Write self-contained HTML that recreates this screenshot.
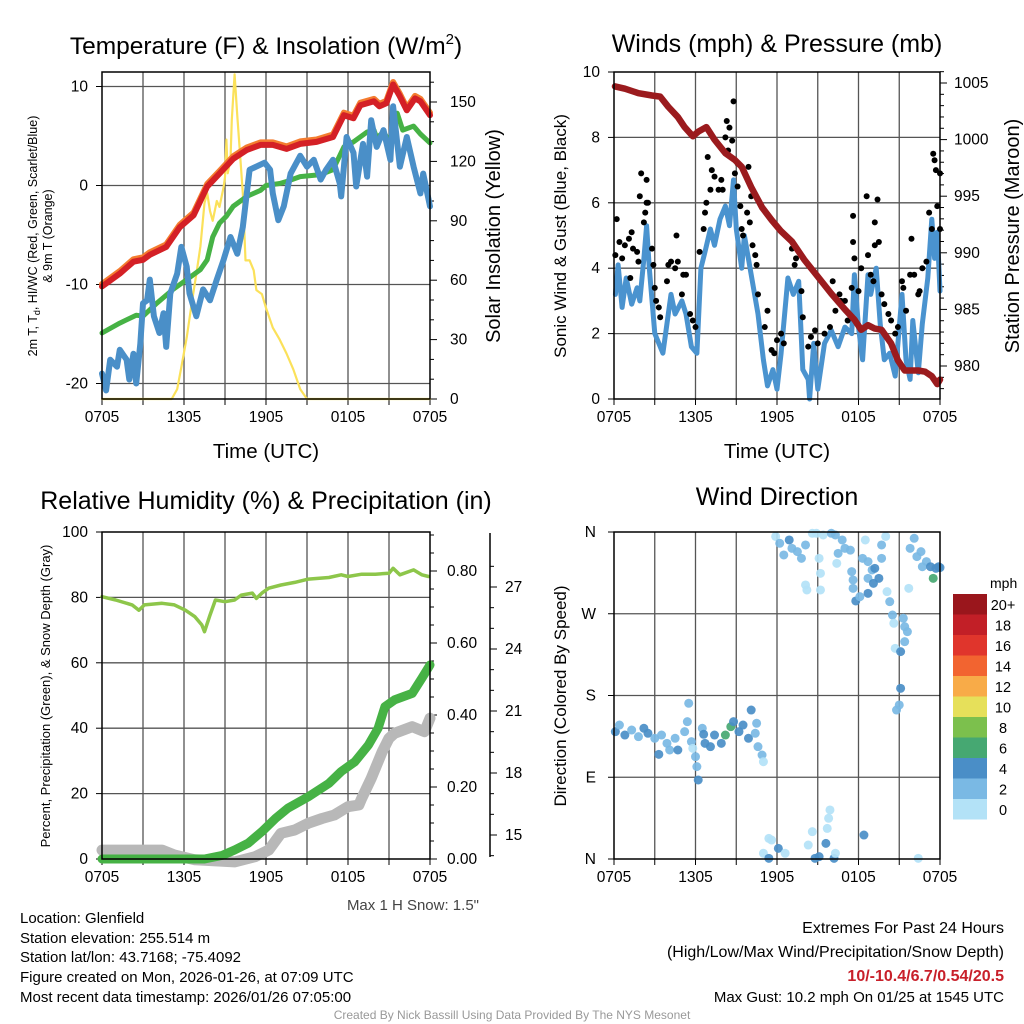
<!DOCTYPE html>
<html><head><meta charset="utf-8"><style>
html,body{margin:0;padding:0;background:#fff;}
svg{display:block;font-family:"Liberation Sans",Arial,sans-serif;}
</style></head><body>
<svg id="fig" width="1024" height="1024" viewBox="0 0 1024 1024" xmlns="http://www.w3.org/2000/svg">
<g id="p1"></g>
<g id="p2"></g>
<g id="p3"></g>
<g id="p4"></g>
<g id="txt">
<text x="266" y="54" font-size="24.5" text-anchor="middle">Temperature (F) &amp; Insolation (W/m<tspan font-size="15" dy="-10">2</tspan><tspan dy="10">)</tspan></text>
<text x="777" y="52" font-size="25" text-anchor="middle">Winds (mph) &amp; Pressure (mb)</text>
<text x="266" y="509" font-size="25" text-anchor="middle">Relative Humidity (%) &amp; Precipitation (in)</text>
<text x="777" y="505" font-size="25" text-anchor="middle">Wind Direction</text>
<text x="266" y="458" font-size="20.5" text-anchor="middle">Time (UTC)</text>
<text x="777" y="458" font-size="20.5" text-anchor="middle">Time (UTC)</text>
<text transform="translate(37,236) rotate(-90)" font-size="12.5" text-anchor="middle">2m T, T<tspan font-size="9" dy="3">d</tspan><tspan dy="-3">, HI/WC (Red, Green, Scarlet/Blue)</tspan></text>
<text transform="translate(52,236) rotate(-90)" font-size="12.5" text-anchor="middle">&amp; 9m T (Orange)</text>
<text transform="translate(500,236) rotate(-90)" font-size="20" text-anchor="middle">Solar Insolation (Yellow)</text>
<text transform="translate(566,236) rotate(-90)" font-size="17" text-anchor="middle">Sonic Wind &amp; Gust (Blue, Black)</text>
<text transform="translate(1019,236) rotate(-90)" font-size="20" text-anchor="middle">Station Pressure (Maroon)</text>
<text transform="translate(50,696) rotate(-90)" font-size="13" text-anchor="middle">Percent, Precipitation (Green), &amp; Snow Depth (Gray)</text>
<text transform="translate(566,696) rotate(-90)" font-size="17" text-anchor="middle">Direction (Colored By Speed)</text>
<text x="479" y="910" font-size="15" fill="#444" text-anchor="end">Max 1 H Snow: 1.5"</text>
<g font-size="15">
<text x="20" y="923">Location: Glenfield</text>
<text x="20" y="943">Station elevation: 255.514 m</text>
<text x="20" y="962">Station lat/lon: 43.7168; -75.4092</text>
<text x="20" y="982">Figure created on Mon, 2026-01-26, at 07:09 UTC</text>
<text x="20" y="1002">Most recent data timestamp: 2026/01/26 07:05:00</text>
</g>
<g text-anchor="end">
<text x="1004" y="933" font-size="16">Extremes For Past 24 Hours</text>
<text x="1004" y="957" font-size="16">(High/Low/Max Wind/Precipitation/Snow Depth)</text>
<text x="1004" y="981" font-size="16" font-weight="bold" fill="#c8202a">10/-10.4/6.7/0.54/20.5</text>
<text x="1004" y="1002" font-size="15">Max Gust: 10.2 mph On 01/25 at 1545 UTC</text>
</g>
<text x="512" y="1019" font-size="12" fill="#999" text-anchor="middle">Created By Nick Bassill Using Data Provided By The NYS Mesonet</text>
</g>
</svg>
<script>
// ---- data: [hour since 0705 UTC, value] ----
const xTickLabels = ["0705","1305","1905","0105","0705"];
const temp2m = [[0,-10.2],[1.3,-8.9],[2.3,-7.7],[3,-7.5],[3.5,-7.0],[4.7,-6.2],[5.7,-4.2],[6.7,-3.0],[7.7,-0.1],[8.6,1.2],[9.6,2.7],[10.6,3.6],[11.6,4.1],[12.5,4.1],[13.5,3.7],[14.5,4.2],[15.7,4.4],[16.9,4.9],[17.7,7.1],[18.4,6.8],[18.9,8.1],[19.9,8.5],[20.3,8.0],[20.8,8.3],[21.3,10.2],[21.8,9.0],[22.3,7.6],[22.9,8.8],[23.3,8.5],[24,7.1]];
const dewpoint = [[0,-14.9],[1.3,-13.9],[2.5,-13.1],[3,-13.2],[4,-11.9],[5.2,-10.5],[6.2,-9.5],[7.2,-8.5],[7.7,-7.5],[8.1,-5.2],[8.6,-3.8],[9.1,-3.1],[9.6,-2.1],[10.6,-1.1],[11.1,-0.8],[11.6,-0.5],[12,0.0],[13,0.2],[13.5,0.4],[14.5,0.9],[16,1.1],[16.9,1.6],[17.7,3.9],[18.4,4.4],[19.4,5.4],[19.9,5.6],[20.1,4.8],[20.6,5.4],[21.1,4.3],[21.6,7.3],[22,5.6],[22.8,6.0],[23.3,5.2],[24,4.3]];
const windChill = [[0,-19.0],[0.3,-20.7],[0.6,-17.6],[1.1,-18.3],[1.3,-16.6],[1.8,-17.6],[2.0,-19.6],[2.3,-17.0],[2.5,-20.0],[2.8,-16.0],[3.0,-11.9],[3.3,-11.6],[3.5,-9.5],[3.8,-13.2],[4.2,-14.9],[4.5,-12.9],[4.7,-16.3],[5.0,-10.9],[5.5,-8.9],[5.8,-6.2],[6.2,-8.2],[6.4,-10.9],[6.9,-13.2],[7.4,-10.5],[7.9,-11.6],[8.4,-9.5],[8.9,-7.5],[9.4,-5.2],[9.9,-6.9],[10.3,-4.2],[10.8,1.6],[11.9,2.3],[12.3,1.6],[12.5,-0.8],[12.9,-3.5],[13.3,-2.1],[13.8,1.2],[14.5,3.0],[15,1.9],[15.5,2.6],[16,0.6],[16.4,1.6],[16.9,2.6],[17.4,0.2],[17.5,-1.1],[17.9,4.9],[18.4,3.3],[18.6,-0.1],[19.1,4.2],[19.4,0.9],[19.7,6.6],[20.1,3.9],[20.6,5.6],[21.1,2.6],[21.3,8.0],[21.8,1.9],[22.3,4.9],[22.8,1.9],[23.3,-0.8],[23.5,1.2],[24,-2.1]];
const insolation = [[0,0],[5.1,0],[5.5,5],[5.8,16],[6.2,31],[6.6,50],[6.9,63],[7.2,77],[7.5,99],[7.7,104],[7.9,95],[8.1,90],[8.4,100],[8.6,97],[8.9,107],[9.0,112],[9.1,131],[9.2,114],[9.4,121],[9.5,141],[9.7,164],[9.9,143],[10.1,124],[10.3,104],[10.5,70],[10.8,70],[11.1,65],[11.3,55],[11.7,53],[12.0,46],[12.5,36],[13.0,30],[13.5,23],[14.0,15],[14.5,5],[15.0,0],[24,0]];
const windSpeed = [[0.1,3.2],[0.3,4.1],[0.6,2.8],[0.9,3.7],[1.3,2.9],[1.7,3.4],[1.9,3.0],[2.2,4.3],[2.4,5.3],[2.6,4.0],[3.0,2.0],[3.4,1.6],[3.6,1.4],[4.0,2.6],[4.2,3.2],[4.5,2.6],[5.0,3.0],[5.3,2.6],[5.7,1.6],[6.1,1.4],[6.4,4.0],[6.7,4.5],[7.1,5.2],[7.4,4.7],[7.8,5.5],[8.2,5.9],[8.5,5.3],[8.8,6.7],[9.0,5.2],[9.4,4.0],[9.6,5.0],[10.1,3.8],[10.6,2.6],[11.0,1.2],[11.3,0.4],[11.7,0.9],[12.0,0.3],[12.3,1.4],[12.8,3.7],[13.2,3.2],[13.6,3.6],[13.9,0.9],[14.3,0.6],[14.4,0.0],[14.7,1.7],[15.0,0.3],[15.5,1.7],[16.0,2.1],[16.5,1.6],[17.0,2.2],[17.5,2.0],[17.7,3.8],[18.0,2.2],[18.3,1.2],[18.7,3.8],[18.9,3.2],[19.3,4.0],[19.6,2.3],[19.9,1.2],[20.3,1.4],[20.7,0.7],[21.2,3.2],[21.5,1.2],[21.8,0.6],[22.0,2.4],[22.4,0.8],[22.7,2.3],[23.1,3.7],[23.4,5.5],[23.6,4.3],[23.8,5.1],[24.0,3.3]];
const windGust = [[0.2,5.5],[0.1,4.4],[0.4,4.8],[0.6,4.3],[0.8,4.7],[1.1,4.9],[1.3,5.1],[1.2,3.7],[1.4,4.6],[1.7,4.5],[1.8,4.2],[1.9,6.2],[2.0,6.9],[2.2,5.4],[2.3,5.7],[2.4,6.7],[2.4,6.0],[2.5,6.0],[2.8,4.6],[2.9,4.1],[3.0,3.4],[3.1,3.0],[3.3,2.8],[3.4,2.5],[3.9,3.6],[4.0,4.1],[4.2,4.2],[4.5,4.0],[4.6,5.0],[4.7,4.2],[5.0,3.2],[5.1,3.8],[5.3,3.8],[5.6,2.6],[5.8,2.4],[6.0,2.2],[6.3,4.5],[6.6,5.2],[6.7,5.7],[6.8,6.0],[6.9,7.4],[7.1,6.4],[7.2,7.0],[7.4,6.8],[7.7,6.4],[7.9,6.7],[8.0,6.4],[8.2,8.0],[8.3,8.5],[8.5,8.3],[8.7,7.9],[8.4,7.6],[8.8,9.1],[8.9,6.9],[9.1,6.5],[9.1,7.2],[9.3,5.9],[9.4,5.2],[9.5,5.0],[9.8,5.7],[9.9,7.1],[10.0,5.4],[10.1,6.2],[10.2,4.7],[10.4,4.4],[10.5,4.1],[10.6,3.2],[11.1,2.2],[11.3,2.7],[11.6,1.5],[11.8,1.4],[12.0,1.8],[12.3,2.0],[12.5,1.7],[13.1,4.6],[13.3,4.1],[13.4,4.3],[13.8,3.3],[13.9,2.5],[14.3,1.6],[14.5,1.9],[14.8,2.1],[15.0,1.7],[15.5,2.0],[15.9,2.2],[16.1,3.6],[16.3,2.7],[16.6,3.2],[16.7,3.0],[17.0,3.0],[17.2,2.4],[17.5,3.4],[17.6,5.6],[17.6,4.8],[17.7,4.3],[18.0,3.3],[18.2,4.0],[18.6,6.2],[18.7,4.4],[18.9,3.8],[19.1,3.6],[19.2,4.7],[19.2,5.4],[19.4,6.1],[19.5,4.8],[19.7,3.2],[19.9,2.9],[20.2,2.6],[20.4,2.4],[20.7,2.0],[20.9,2.2],[21.2,3.6],[21.3,3.4],[21.5,2.7],[21.8,3.8],[21.9,4.9],[22.1,3.8],[22.4,3.2],[22.5,3.3],[22.7,4.0],[23.0,4.2],[23.2,5.7],[23.4,5.2],[23.5,7.5],[23.6,7.3],[23.7,7.0],[23.8,5.9],[24.0,6.9],[24.0,5.2]];
const pressure = [[0.07,1004.7],[0.8,1004.5],[1.8,1004.1],[2.8,1003.9],[3.4,1003.8],[4.0,1002.9],[4.7,1002.0],[5.2,1001.1],[5.8,1000.3],[6.2,1000.7],[6.8,1001.1],[7.4,1000.0],[8.2,998.8],[8.9,998.2],[9.4,997.6],[10.1,995.8],[10.9,994.0],[11.6,992.9],[12.3,991.9],[13.1,991.0],[14.0,989.4],[15.0,987.9],[16.0,986.4],[17.0,985.0],[17.7,984.1],[18.2,983.2],[18.7,983.6],[19.2,983.3],[19.7,983.2],[20.4,982.0],[20.9,980.5],[21.4,979.6],[22.4,979.6],[22.9,979.5],[23.4,979.1],[23.8,978.4],[24,978.8]];
const relHumidity = [[0,80.2],[1.0,79.2],[2.2,77.7],[2.7,76.1],[3.1,77.7],[4.4,78.2],[5.3,77.7],[6.1,76.1],[6.8,74.1],[7.3,71.6],[7.5,69.5],[7.9,74.6],[8.3,79.2],[9.0,78.7],[9.7,79.2],[10.2,80.7],[11.0,81.3],[11.3,79.7],[11.7,81.3],[12.2,82.8],[13.1,83.8],[14.1,84.6],[15.1,85.6],[16.6,86.1],[17.5,86.9],[18.0,86.4],[19.0,87.1],[20.0,87.1],[21.0,87.4],[21.3,88.9],[21.8,86.9],[22.8,88.4],[23.4,86.9],[23.9,86.4]];
const precip = [[0,0],[7.5,0],[8.8,0.01],[9.7,0.025],[10.7,0.044],[11.7,0.076],[12.7,0.113],[13.6,0.141],[15.1,0.173],[16.6,0.21],[17.5,0.243],[18.5,0.27],[19.5,0.317],[20.2,0.363],[20.7,0.423],[21.4,0.442],[22.7,0.46],[23.4,0.502],[24,0.539]];
const snowDepth = [[0,14.27],[4.4,14.27],[5.3,14.03],[6.8,13.8],[9.7,13.7],[11.2,13.95],[12.2,14.27],[13.1,15.08],[14.1,15.24],[15.1,15.57],[16.1,15.8],[17.0,15.97],[18.0,16.37],[18.8,16.45],[19.0,16.77],[19.7,17.74],[20.5,19.03],[21.0,19.68],[21.4,19.92],[22.7,20.24],[23.6,20.0],[24,20.65]];
// wind direction: [hour, degrees, speed mph]
const windDir = [[0.1,140.2,5],[0.4,147.5,3],[0.8,136.5,5],[1.3,142.0,3],[1.8,134.7,3],[2.2,143.9,5],[2.5,138.4,5],[3.0,132.9,3],[3.3,115.2,5],[3.5,136.5,3],[3.9,127.3,3],[4.1,120.0,3],[4.5,132.9,3],[4.7,120.0,5],[5.2,140.2,3],[5.4,151.2,3],[5.5,171.4,3],[5.7,129.2,3],[5.8,121.8,1],[6.0,112.7,3],[6.1,101.7,3],[6.2,87.0,5],[6.5,143.9,3],[6.6,137.3,5],[6.7,127.3,5],[7.1,123.7,5],[7.4,136.5,5],[7.9,127.3,5],[8.2,136.5,7],[8.6,145.7,7],[8.8,151.2,5],[9.2,140.2,5],[9.5,147.5,5],[9.9,132.9,5],[10.1,164.0,5],[10.4,138.4,3],[10.5,149.4,3],[10.6,123.7,3],[10.9,114.5,3],[11.0,107.1,1],
[11.0,6.3,1],[11.4,22.7,1],[11.6,20.9,1],[11.4,0.7,5],[12.1,11.7,5],[12.6,6.3,1],[14.3,15.4,1],[14.6,30.1,1],[14.8,0.7,5],[15.1,2.6,5],[15.6,17.2,5],[15.7,33.7,1],[15.8,44.8,1],[15.9,54.0,1],[16.2,0.7,5],[16.3,6.3,1],[18.4,26.4,5],[22.4,0.7,1],
[11.9,355.1,1],[12.2,347.6,3],[12.9,351.2,5],[13.1,342.0,3],[12.5,334.7,3],[13.5,338.4,3],[13.8,331.0,3],[14.1,345.7,3],[14.1,301.7,1],[14.2,296.2,1],[14.6,358.6,1],[14.9,358.6,1],[15.1,331.0,1],[15.2,314.5,1],[15.2,296.2,1],[15.4,356.7,1],[16.0,358.6,3],[16.3,356.7,3],[16.5,336.5,3],[16.8,351.2,3],[17.0,342.0,3],[17.4,340.0,3],[16.4,325.5,1],[17.5,316.4,3],[17.6,307.2,3],[17.6,298.0,3],[17.8,284.1,5],[18.1,288.8,3],[18.3,331.0,3],[18.5,351.2,1],[18.7,327.4,3],[19.0,318.2,3],[19.2,320.0,5],[18.7,309.0,3],[19.1,303.5,5],[19.5,309.0,5],[18.7,292.5,5],[19.7,331.0,3],[19.7,345.7,3],[20.0,355.1,1],[20.1,294.3,1],[20.3,283.3,3],[20.5,268.6,3],[20.6,259.5,1],[20.7,231.9,1],[21.1,228.3,5],[21.3,265.0,3],[21.4,255.8,3],[21.6,250.3,3],[21.4,239.3,3],[21.1,187.9,5],[21.0,169.6,3],[20.8,164.0,3],[21.7,298.0,1],[21.8,342.0,3],[22.1,353.1,3],[22.3,332.9,3],[22.6,338.4,3],[22.7,321.8,3],[23.0,327.4,3],[23.3,321.8,5],[23.7,320.0,5],[23.9,321.8,5],[24.0,320.8,5],[23.5,309.0,7]];
const speedBins = ["0","2","4","6","8","10","12","14","16","18","20+"];
const dirLabels = ["N","E","S","W","N"];

const NS="http://www.w3.org/2000/svg";
const TICK_FS=15.5;
function mk(parent,tag,attrs){const e=document.createElementNS(NS,tag);for(const k in attrs)e.setAttribute(k,attrs[k]);parent.appendChild(e);return e;}
function scale(d0,d1,r0,r1){return v=>r0+(v-d0)*(r1-r0)/(d1-d0);}
const binColors=["#b3e2f7","#7ab9e4","#4a8ec7","#46a872","#7cc04d","#e6e05a","#f8ab48","#f26430","#e0352c","#c21f27","#9a161c"];
function speedColor(s){let i=Math.floor(s/2);if(i>10)i=10;return binColors[i];}

function frame(g,L,T,R,B,xs){
  for(let h=3;h<24;h+=3){const l=mk(g,'line',{x1:xs(h),x2:xs(h),y1:T,y2:B,stroke:'#555','stroke-width':1.3});
    }
  for(let h=0;h<=24;h+=3){mk(g,'line',{x1:xs(h),x2:xs(h),y1:B,y2:B+6,stroke:'#000','stroke-width':1});}
  xTickLabels.forEach((t,i)=>{const e=mk(g,'text',{x:xs(i*6),y:B+23,'font-size':TICK_FS,'text-anchor':'middle'});e.textContent=t;
    });
}
function border(g,L,T,R,B){const r=mk(g,'rect',{x:L,y:T,width:R-L,height:B-T,fill:'none',stroke:'#000','stroke-width':1.5});
  }
function hgrid(g,L,R,y){const l=mk(g,'line',{x1:L,x2:R,y1:y,y2:y,stroke:'#555','stroke-width':1.3});
  }
function path(g,data,xs,ys,color,w,name){const d=data.map((p,i)=>(i?'L':'M')+xs(p[0]).toFixed(1)+','+ys(p[1]).toFixed(1)).join('');
  const e=mk(g,'path',{d:d,fill:'none',stroke:color,'stroke-width':w,'stroke-linejoin':'round','stroke-linecap':'round'});
  return e;}
function label(g,x,y,t,anchor,size){const e=mk(g,'text',{x:x,y:y,'font-size':size||TICK_FS,'text-anchor':anchor});e.textContent=t;
  return e;}

// ---- Panel 1 ----
(function(){
  const g=document.getElementById('p1');const L=102,T=72,R=430,B=399;
  const xs=scale(0,24,L,R), yl=scale(0,10,185.5,86.5), yr=scale(0,150,399,102);
  frame(g,L,T,R,B,xs);
  [10,0,-10,-20].forEach(v=>{hgrid(g,L,R,yl(v));mk(g,'line',{x1:L-6,x2:L,y1:yl(v),y2:yl(v),stroke:'#000'});label(g,L-14,yl(v)+5,String(v),'end');});
  for(let v=0;v<=160;v+=10){const big=v%30===0;mk(g,'line',{x1:R,x2:R+(big?7:4),y1:yr(v),y2:yr(v),stroke:'#000'});if(big&&v<=150)label(g,R+20,yr(v)+5,String(v),'start');}
  path(g,insolation,xs,yr,'#fbe15a',2.2,'insolation-line');
  path(g,dewpoint,xs,yl,'#46b245',5,'dewpoint-line');
  path(g,windChill,xs,yl,'#4a8fc8',6,'wind-chill-line');
  path(g,temp2m.map(p=>[p[0],p[1]+0.25]),xs,yl,'#f47d30',6,'temp-9m-line');
  path(g,temp2m,xs,yl,'#d42026',6,'temp-2m-line');
  border(g,L,T,R,B);
})();
// ---- Panel 2 ----
(function(){
  const g=document.getElementById('p2');const L=614,T=72,R=940,B=399;
  const xs=scale(0,24,L,R), yl=scale(0,10,399,72), yr=scale(980,1005,366,83);
  frame(g,L,T,R,B,xs);
  for(let v=0;v<=10;v+=2){if(v>0&&v<10)hgrid(g,L,R,yl(v));mk(g,'line',{x1:L-6,x2:L,y1:yl(v),y2:yl(v),stroke:'#000'});label(g,L-14,yl(v)+5,String(v),'end');}
  for(let v=978;v<=1006;v++){const big=v%5===0;mk(g,'line',{x1:R,x2:R+(big?7:4),y1:yr(v),y2:yr(v),stroke:'#000'});if(big)label(g,R+14,yr(v)+5,String(v),'start');}
  path(g,windSpeed,xs,yl,'#4a93cf',5,'wind-speed-line');
  windGust.forEach(p=>{const c=mk(g,'circle',{cx:xs(p[0]),cy:yl(p[1]),r:3,fill:'#000'});
    });
  path(g,pressure,xs,yr,'#9b1b1e',6.5,'pressure-line');
  border(g,L,T,R,B);
})();
// ---- Panel 3 ----
(function(){
  const g=document.getElementById('p3');const L=102,T=532,R=430,B=859;
  const xs=scale(0,24,L,R), yl=scale(0,100,859,532), yp=scale(0,0.8,859,571), ysn=scale(15,27,835,587);
  frame(g,L,T,R,B,xs);
  for(let v=0;v<=100;v+=20){if(v>0&&v<100)hgrid(g,L,R,yl(v));mk(g,'line',{x1:L-6,x2:L,y1:yl(v),y2:yl(v),stroke:'#000'});label(g,L-14,yl(v)+5,String(v),'end');}
  for(let v=0;v<=0.9001;v+=0.05){const big=Math.abs(v*10-Math.round(v*10))<1e-6&&Math.round(v*10)%2===0;mk(g,'line',{x1:R,x2:R+(big?7:4),y1:yp(v),y2:yp(v),stroke:'#000'});if(big)label(g,R+17,yp(v)+5,v.toFixed(2),'start');}
  const ax=mk(g,'line',{x1:490,x2:490,y1:533,y2:857,stroke:'#000','stroke-width':1.5});
  
  for(let v=14;v<=28;v++){const big=v%3===0;mk(g,'line',{x1:490,x2:490+(big?7:4),y1:ysn(v),y2:ysn(v),stroke:'#000'});if(big&&v>=15&&v<=27)label(g,505,ysn(v)+5,String(v),'start');}
  path(g,snowDepth,xs,ysn,'#b8b8b8',11,'snow-depth-line');
  path(g,precip,xs,yp,'#46b245',9,'precipitation-line');
  path(g,relHumidity,xs,yl,'#8dc64a',3.5,'relative-humidity-line');
  border(g,L,T,R,B);
})();
// ---- Panel 4 ----
(function(){
  const g=document.getElementById('p4');const L=614,T=532,R=940,B=859;
  const xs=scale(0,24,L,R), yd=scale(0,360,859,532);
  frame(g,L,T,R,B,xs);
  dirLabels.forEach((t,i)=>{const v=i*90;if(i>0&&i<4)hgrid(g,L,R,yd(v));mk(g,'line',{x1:L-6,x2:L,y1:yd(v),y2:yd(v),stroke:'#000'});label(g,L-18,yd(v)+5,t,'end');});
  windDir.forEach(p=>{const c=mk(g,'circle',{cx:xs(p[0]),cy:yd(p[1]),r:4.5,fill:speedColor(p[2]),'fill-opacity':0.92});
    });
  border(g,L,T,R,B);
  const lg=mk(g,'g',{});
  const t=mk(lg,'text',{x:990,y:588,'font-size':14});t.textContent='mph';
  for(let i=10;i>=0;i--){const y=594+(10-i)*20.5;
    const r=mk(lg,'rect',{x:953,y:y,width:34,height:20.5,fill:binColors[i]});
    
    const tx=mk(lg,'text',{x:1003,y:y+16,'font-size':14.5,'text-anchor':'middle'});tx.textContent=speedBins[i];}
})();
</script>
</body></html>
